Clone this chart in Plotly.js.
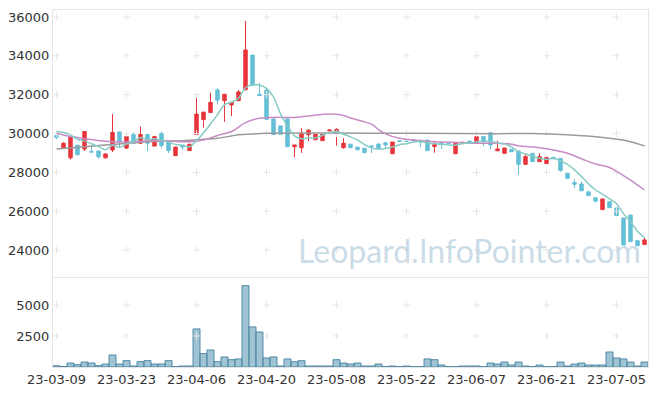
<!DOCTYPE html>
<html>
<head>
<meta charset="utf-8">
<script src="https://cdn.plot.ly/plotly-3.0.1.min.js"></script>
<style>html,body{margin:0;padding:0;background:#fff;}#chart{width:657px;height:396px;}</style>
</head>
<body>
<div id="chart"></div>
<script>
const dates = ["23-03-09","23-03-10","23-03-13","23-03-14","23-03-15","23-03-16","23-03-17","23-03-20","23-03-21","23-03-22",
"23-03-23","23-03-24","23-03-27","23-03-28","23-03-29","23-03-30","23-03-31","23-04-03","23-04-04","23-04-05",
"23-04-06","23-04-07","23-04-10","23-04-11","23-04-12","23-04-13","23-04-14","23-04-17","23-04-18","23-04-19",
"23-04-20","23-04-21","23-04-24","23-04-25","23-04-26","23-04-27","23-04-28","23-05-02","23-05-03","23-05-04",
"23-05-08","23-05-09","23-05-10","23-05-11","23-05-12","23-05-15","23-05-16","23-05-17","23-05-18","23-05-19",
"23-05-22","23-05-23","23-05-24","23-05-25","23-05-26","23-05-30","23-05-31","23-06-01","23-06-02","23-06-05",
"23-06-07","23-06-08","23-06-09","23-06-12","23-06-13","23-06-14","23-06-15","23-06-16","23-06-19","23-06-20",
"23-06-21","23-06-22","23-06-23","23-06-26","23-06-27","23-06-28","23-06-29","23-06-30","23-07-03","23-07-04",
"23-07-05","23-07-06","23-07-07","23-07-10","23-07-11"];

const openP = [29900,29250,28750,29400,29200,29060,29100,28750,29150,30080,
29250,29950,29500,29950,29350,30000,29580,28860,29400,29120,
29950,30720,31080,32240,31690,31470,31690,32250,34040,32020,
32240,30750,30390,30750,29320,29270,29940,29680,29630,30140,
30060,29270,29450,29300,29240,29360,29460,29520,28960,29620,
29600,29670,29660,29660,29330,29500,29510,28960,29480,29610,
29530,29840,30040,29110,28980,29190,29100,28410,28980,28550,
28450,28770,28720,27950,27470,27400,27000,26690,26080,26490,
26160,25650,25800,24480,24290];
const highP = [29950,29550,29850,29400,30100,29400,29100,28950,31000,30080,
29900,30050,30350,29970,29850,30100,29600,29300,29400,29450,
32100,31100,32100,32340,32020,31610,32240,35800,34040,32600,
32300,30750,30390,30750,29410,30270,30180,29960,29960,30200,
30270,29760,29450,29300,29240,29360,29460,29520,29560,29620,
29600,29670,29660,29660,29630,29600,29510,29500,29550,29610,
29840,29840,30040,29630,29250,29190,29100,28930,28980,28980,
28770,28770,28720,27950,27640,27520,27000,26690,26630,26490,
26160,25650,25800,24480,24630];
const lowP = [29700,29200,28650,28900,29100,29050,28700,28700,29050,29300,
29200,29500,29450,29100,29350,29250,29000,28860,29150,29120,
29950,30300,31080,31500,30600,30900,31690,32250,32450,31950,
30700,29950,29960,29320,28780,29000,29600,29680,29630,30100,
29370,29220,29270,29160,29010,28990,29220,29220,28960,29600,
29590,29660,29300,29120,29010,29220,29500,28960,29480,29500,
29530,29360,29190,29110,28980,29060,27880,28410,28550,28550,
28450,28700,28030,27690,27180,27050,26800,26440,26080,26180,
25770,24260,24430,24220,24250];
const closeP = [29800,29500,29800,28900,30100,29050,28800,28950,30050,29600,
29850,29500,29950,29500,29850,29380,29120,29300,29300,29450,
31000,31100,31600,31720,32020,31610,32140,34300,32480,31950,
30730,29950,29960,29320,29410,30010,30180,29960,29960,30180,
30210,29500,29270,29160,29010,29340,29220,29410,29560,29600,
29590,29660,29560,29120,29430,29450,29500,29500,29550,29500,
29840,29630,29410,29200,29250,29060,28410,28810,28550,28810,
28770,28700,28100,27690,27390,27050,26800,26520,26630,26180,
25770,24260,24430,24220,24520];
const volume = [100,40,320,190,400,320,110,240,970,240,
510,80,430,510,240,240,510,30,80,80,
3070,1080,1370,430,810,590,650,6560,3230,2820,
730,810,80,650,430,510,80,80,80,80,
590,320,240,320,80,80,240,30,80,30,
80,30,30,650,590,160,30,30,80,80,
80,30,320,240,400,160,400,80,30,160,
30,30,400,80,240,320,160,160,160,1210,
730,650,400,80,400];

const ma5 = [30100,30050,29930,29700,29620,29470,29330,29160,29390,29290,
29450,29590,29790,29680,29730,29636,29560,29430,29390,29310,
29634,30030,30490,30974,31488,31610,31818,32358,32510,32496,
32320,31882,31014,30382,29874,29730,29776,29776,29904,30058,
30098,29962,29824,29664,29430,29256,29200,29228,29308,29426,
29476,29564,29594,29506,29472,29444,29412,29400,29486,29500,
29578,29604,29586,29516,29466,29310,29066,28946,28816,28728,
28670,28728,28586,28414,28130,27786,27406,27090,26878,26636,
26380,25872,25454,24972,24640];
const ma20Idx = [0,2,5,8,11,13,16,19,21,23,25,27,29,31,34,36,39,41,42,45,46,47,49,52,54,58,60,63,65,66,69,71,73,75,77,79,80,82,84];
const ma20Val = [30010,29840,29690,29580,29580,29630,29610,29580,29660,29900,30100,30560,30780,30830,30830,30900,31000,30930,30800,30480,30200,29980,29750,29630,29580,29530,29500,29500,29450,29370,29270,29150,28980,28700,28430,28250,28050,27600,27090];
const ma60Idx = [0,4,9,13,18,21,23,26,28,30,50,63,68,73,78,82,84];
const ma60Val = [29200,29320,29460,29580,29630,29700,29750,29930,29970,30010,30010,29990,30000,29930,29790,29580,29360];

const xTickIdx = [0,10,20,30,40,50,60,70,80];
const priceTicks = [24000,26000,28000,30000,32000,34000,36000];
const volTicks = [2500,5000];

const tickDates = xTickIdx.map(i => dates[i]);
function crossPts(ys){const xs=[],yy=[];tickDates.forEach(d=>ys.forEach(v=>{xs.push(d);yy.push(v);}));return {x:xs,y:yy};}
const cp = crossPts(priceTicks), cv = crossPts(volTicks);

const traces = [
 {type:'scatter',mode:'markers',x:cp.x,y:cp.y,xaxis:'x',yaxis:'y',hoverinfo:'skip',
  marker:{symbol:'cross-thin',size:5,line:{color:'#e6e6e6',width:1}}},
 {type:'scatter',mode:'markers',x:cv.x,y:cv.y,xaxis:'x2',yaxis:'y2',hoverinfo:'skip',
  marker:{symbol:'cross-thin',size:5,line:{color:'#e6e6e6',width:1}}},
 {type:'candlestick',x:dates,open:openP,high:highP,low:lowP,close:closeP,xaxis:'x',yaxis:'y',
  increasing:{line:{color:'#e8343b',width:1},fillcolor:'#e8343b'},
  decreasing:{line:{color:'#64bfd7',width:1},fillcolor:'#64bfd7'},
  whiskerwidth:0,hoverinfo:'skip'},
 {type:'scatter',mode:'lines',x:ma60Idx.map(i=>dates[i]),y:ma60Val,xaxis:'x',yaxis:'y',
  line:{color:'#9a9a9a',width:1.5,shape:'spline'},hoverinfo:'skip'},
 {type:'scatter',mode:'lines',x:ma20Idx.map(i=>dates[i]),y:ma20Val,xaxis:'x',yaxis:'y',
  line:{color:'#c98bc3',width:1.5,shape:'spline'},hoverinfo:'skip'},
 {type:'scatter',mode:'lines',x:dates,y:ma5,xaxis:'x',yaxis:'y',
  line:{color:'#86cbc4',width:1.5,shape:'spline',smoothing:0.6},hoverinfo:'skip'},
 {type:'bar',x:dates,y:volume,xaxis:'x2',yaxis:'y2',hoverinfo:'skip',
  marker:{color:'rgba(135,180,200,0.78)',line:{color:'rgba(70,130,160,0.9)',width:1}}}
];

const axFont = {family:'DejaVu Sans',size:13,color:'#333'};
const layout = {
 width:657,height:396,margin:{l:53,r:9,t:10,b:29},
 paper_bgcolor:'#fff',plot_bgcolor:'#fff',showlegend:false,bargap:0,
 font:{family:'DejaVu Sans'},
 xaxis:{type:'category',categoryorder:'array',categoryarray:dates,domain:[0,1],anchor:'y',range:[-0.5,84.5],
  showticklabels:false,showgrid:false,zeroline:false,showline:true,mirror:true,linecolor:'#e6e6e6',linewidth:1,
  ticks:'',rangeslider:{visible:false},fixedrange:true},
 xaxis2:{type:'category',categoryorder:'array',categoryarray:dates,domain:[0,1],anchor:'y2',matches:'x',range:[-0.5,84.5],
  tickmode:'array',tickvals:tickDates,ticktext:tickDates,tickfont:axFont,
  showgrid:false,zeroline:false,showline:true,mirror:true,linecolor:'#e6e6e6',linewidth:1,ticks:'',fixedrange:true},
 yaxis:{domain:[0.2521,1],anchor:'x',range:[22610,36360],tickmode:'array',tickvals:priceTicks,
  ticktext:priceTicks.map(String),tickfont:axFont,showgrid:false,zeroline:false,
  showline:true,mirror:true,linecolor:'#e6e6e6',linewidth:1,ticks:'',fixedrange:true},
 yaxis2:{domain:[0,0.2493],anchor:'x2',range:[0,7175],tickmode:'array',tickvals:volTicks,
  ticktext:volTicks.map(String),tickfont:axFont,showgrid:false,zeroline:false,
  showline:true,mirror:true,linecolor:'#e6e6e6',linewidth:1,ticks:'',fixedrange:true},
 annotations:[{text:'Leopard.InfoPointer.com',xref:'paper',yref:'paper',x:0.7,y:0.325,
  xanchor:'center',yanchor:'middle',showarrow:false,
  font:{family:'Lato',size:32,color:'rgba(150,185,208,0.5)'}}]
};
Plotly.newPlot('chart',traces,layout,{staticPlot:true,displayModeBar:false});
</script>
</body>
</html>
